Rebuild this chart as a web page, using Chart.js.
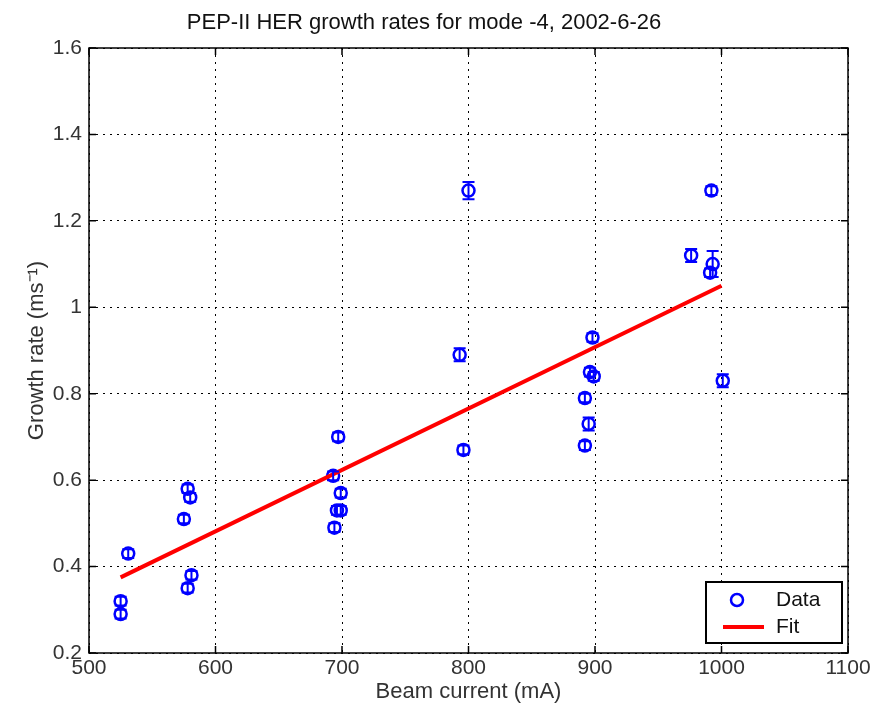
<!DOCTYPE html>
<html>
<head>
<meta charset="utf-8">
<script src="https://cdn.jsdelivr.net/npm/chart.js@4"></script>
<style>
  body { margin: 0; background: #fff; }
  #wrap { width: 876px; height: 705px; }
</style>
</head>
<body>
<div id="wrap"><canvas id="growth"></canvas></div>
<script>
const current = [525, 525, 531, 575, 578, 580, 578, 581, 693, 697, 694, 699, 696, 699, 793, 796, 800, 892, 892, 895, 896, 899, 898, 976, 992, 993, 991, 1001];
const rate = [0.32, 0.29, 0.43, 0.51, 0.58, 0.56, 0.35, 0.38, 0.61, 0.70, 0.49, 0.57, 0.53, 0.53, 0.89, 0.67, 1.27, 0.79, 0.68, 0.73, 0.85, 0.84, 0.93, 1.12, 1.27, 1.10, 1.08, 0.83];
const rateErr = [0.01, 0.01, 0.01, 0.01, 0.01, 0.01, 0.01, 0.01, 0.01, 0.01, 0.01, 0.01, 0.01, 0.01, 0.015, 0.01, 0.02, 0.01, 0.01, 0.015, 0.01, 0.01, 0.01, 0.015, 0.01, 0.03, 0.01, 0.015];
// linear fit end points
const fitCurrent = [525, 1000];
const fitRate = [0.375, 1.05];
const xTicks = [500, 600, 700, 800, 900, 1000, 1100];
const yTicks = [0.2, 0.4, 0.6, 0.8, 1, 1.2, 1.4, 1.6];

const ctx = document.getElementById('growth');
const font = 'Liberation Sans, Arial, Helvetica, sans-serif';

// error bars, frame with inward ticks, legend box
const matlabLook = {
  id: 'matlabLook',
  afterDatasetsDraw(chart) {
    const c = chart.ctx, x = chart.scales.x, y = chart.scales.y;
    c.save();
    c.strokeStyle = '#0000ff';
    c.lineWidth = 2;
    for (let i = 0; i < current.length; i++) {
      const px = x.getPixelForValue(current[i]);
      const top = y.getPixelForValue(rate[i] + rateErr[i]);
      const bot = y.getPixelForValue(rate[i] - rateErr[i]);
      c.beginPath();
      c.moveTo(px, top); c.lineTo(px, bot);
      c.moveTo(px - 6, top); c.lineTo(px + 6, top);
      c.moveTo(px - 6, bot); c.lineTo(px + 6, bot);
      c.stroke();
    }
    c.restore();
  },
  afterDraw(chart) {
    const c = chart.ctx, a = chart.chartArea, x = chart.scales.x, y = chart.scales.y;
    c.save();
    c.strokeStyle = '#000';
    c.lineWidth = 1.5;
    c.strokeRect(a.left, a.top, a.right - a.left, a.bottom - a.top);
    c.beginPath();
    xTicks.forEach(v => {
      const px = x.getPixelForValue(v);
      c.moveTo(px, a.bottom); c.lineTo(px, a.bottom - 7);
      c.moveTo(px, a.top); c.lineTo(px, a.top + 7);
    });
    yTicks.forEach(v => {
      const py = y.getPixelForValue(v);
      c.moveTo(a.left, py); c.lineTo(a.left + 7, py);
      c.moveTo(a.right, py); c.lineTo(a.right - 7, py);
    });
    c.stroke();

    // legend
    const lx = a.right - 142, ly = a.bottom - 71, lw = 136, lh = 61;
    c.fillStyle = '#fff';
    c.fillRect(lx, ly, lw, lh);
    c.lineWidth = 2;
    c.strokeRect(lx, ly, lw, lh);
    c.strokeStyle = '#0000ff';
    c.lineWidth = 2.5;
    c.beginPath();
    c.arc(lx + 31, ly + 18, 6, 0, Math.PI * 2);
    c.stroke();
    c.strokeStyle = '#ff0000';
    c.lineWidth = 4;
    c.beginPath();
    c.moveTo(lx + 17, ly + 45); c.lineTo(lx + 58, ly + 45);
    c.stroke();
    c.fillStyle = '#111';
    c.font = '21px ' + font;
    c.textBaseline = 'middle';
    c.fillText('Data', lx + 70, ly + 18);
    c.fillText('Fit', lx + 70, ly + 45);
    c.restore();
  }
};

new Chart(ctx, {
  type: 'scatter',
  data: {
    datasets: [{
      label: 'Data',
      data: current.map((v, i) => ({ x: v, y: rate[i] })),
      pointStyle: 'circle',
      pointRadius: 6,
      pointBorderWidth: 2.5,
      borderColor: '#0000ff',
      backgroundColor: 'rgba(0,0,0,0)',
      order: 1
    }, {
      label: 'Fit',
      data: fitCurrent.map((v, i) => ({ x: v, y: fitRate[i] })),
      showLine: true,
      borderColor: '#ff0000',
      borderWidth: 4,
      pointRadius: 0,
      order: 0
    }]
  },
  options: {
    responsive: true,
    maintainAspectRatio: false,
    animation: false,
    layout: { padding: { left: 0, right: 28, top: 0, bottom: 0 } },
    plugins: {
      legend: { display: false },
      tooltip: { enabled: false },
      title: {
        display: true,
        text: 'PEP-II HER growth rates for mode -4, 2002-6-26',
        color: '#111',
        font: { family: font, size: 22, weight: 'normal', lineHeight: 1.2 },
        padding: { top: 10, bottom: 11.6 }
      }
    },
    scales: {
      x: {
        type: 'linear',
        min: 500,
        max: 1100,
        afterBuildTicks: s => { s.ticks = xTicks.map(v => ({ value: v })); },
        afterFit: s => { s.height = 52; },
        grid: { color: '#000', lineWidth: 1, drawTicks: false },
        border: { display: false, dash: [2, 5] },
        ticks: { color: '#333', padding: 3, font: { family: font, size: 21 }, callback: v => String(v) },
        title: { display: true, text: 'Beam current (mA)', color: '#333', padding: 0, font: { family: font, size: 22 } }
      },
      y: {
        min: 0.2,
        max: 1.6,
        afterBuildTicks: s => { s.ticks = yTicks.map(v => ({ value: v })); },
        afterFit: s => { s.width = 89; },
        grid: { color: '#000', lineWidth: 1, drawTicks: false },
        border: { display: false, dash: [2, 5] },
        ticks: { color: '#333', padding: 7, font: { family: font, size: 21 }, callback: v => String(v) },
        title: { display: true, text: 'Growth rate (ms\u207B\u00B9)', color: '#333', padding: { top: 24, bottom: 0 }, font: { family: font, size: 22 } }
      }
    }
  },
  plugins: [matlabLook]
});
</script>
</body>
</html>
